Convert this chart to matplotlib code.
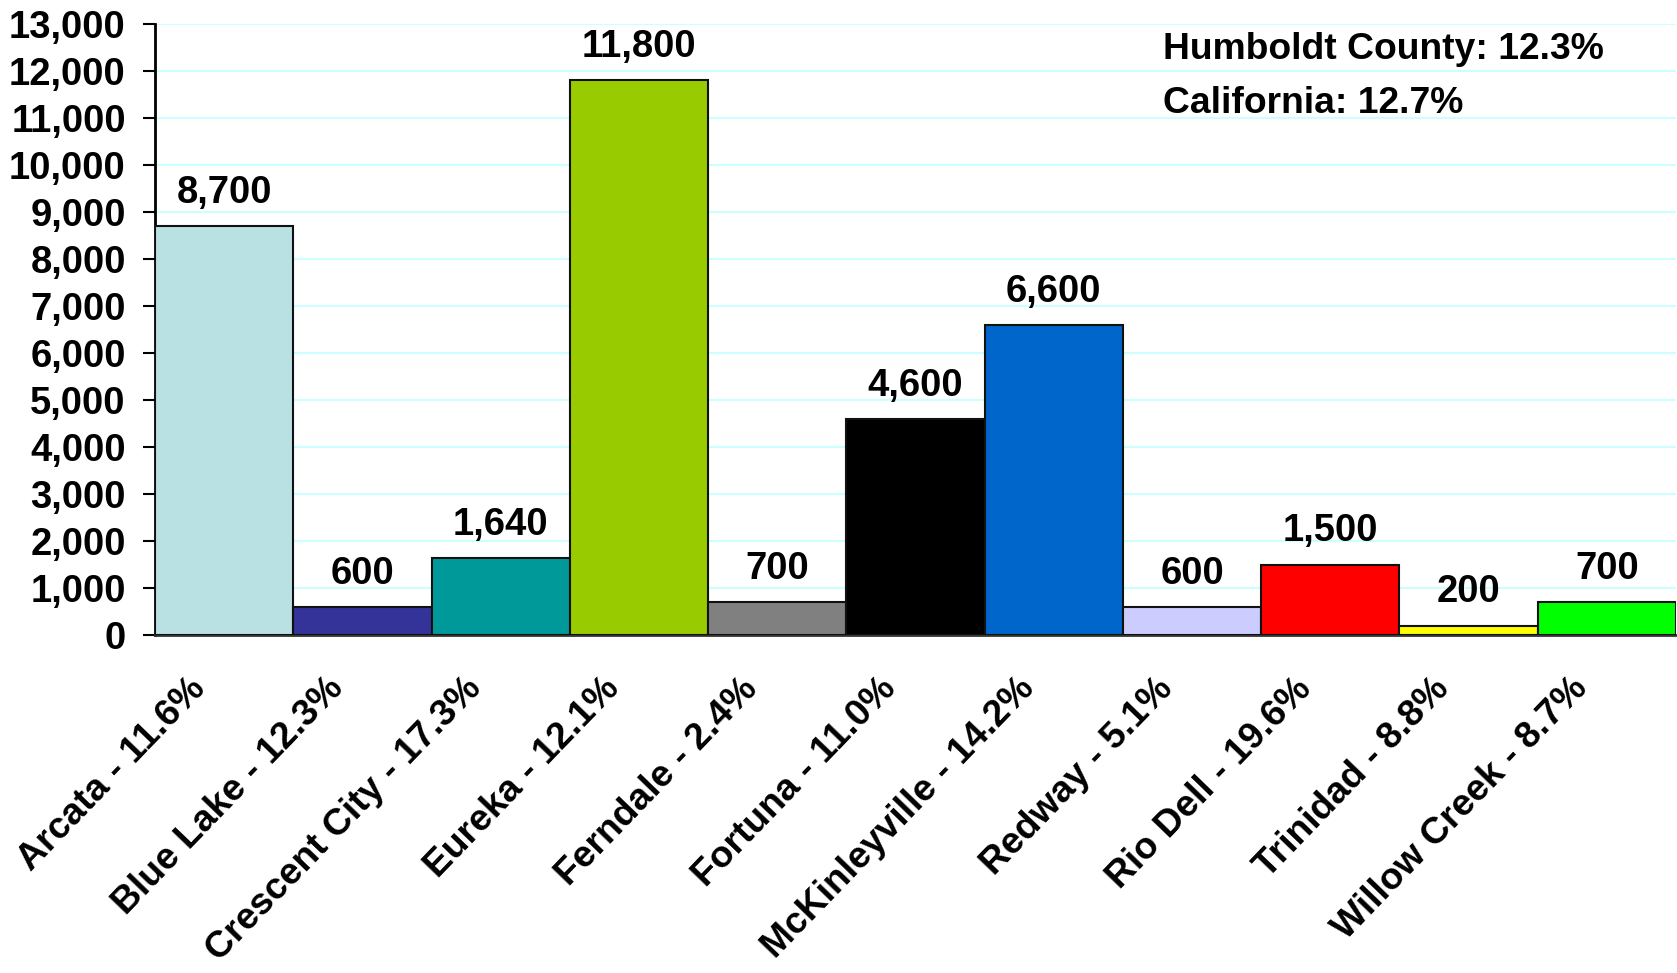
import matplotlib.pyplot as plt
from matplotlib.transforms import ScaledTranslation
from matplotlib.ticker import FuncFormatter, MultipleLocator

plt.rcParams["font.family"] = ["Liberation Sans", "DejaVu Sans"]
plt.rcParams["font.weight"] = "bold"

PLACES = ["Arcata", "Blue Lake", "Crescent City", "Eureka", "Ferndale", "Fortuna",
          "McKinleyville", "Redway", "Rio Dell", "Trinidad", "Willow Creek"]
RATES = ["11.6", "12.3", "17.3", "12.1", "2.4", "11.0", "14.2", "5.1", "19.6", "8.8", "8.7"]
VALUES = [8700, 600, 1640, 11800, 700, 4600, 6600, 600, 1500, 200, 700]
COLORS = ["#B9E0E3", "#333399", "#009999", "#99CC00", "#808080", "#000000",
          "#0066CC", "#CCCCFF", "#FF0000", "#FFFF00", "#00FF00"]
NOTES = ["Humboldt County: 12.3%", "California: 12.7%"]

FS = 27.5

fig = plt.figure(figsize=(16.77, 9.73), dpi=100)
ax = fig.add_axes([155 / 1677, 1 - 635 / 973, 1521 / 1677, 611 / 973])

x = list(range(len(PLACES)))
ax.bar(x, VALUES, width=1.0, color=COLORS, edgecolor="#111111", linewidth=1.5, zorder=3)

# value labels above each bar
for xi, v in zip(x, VALUES):
    ax.annotate(f"{v:,}", (xi, v), xytext=(0, 11), textcoords="offset points",
                ha="center", va="bottom", fontsize=FS, fontweight="bold")

ax.set_xlim(-0.5, len(PLACES) - 0.5)
ax.set_ylim(0, 13000)
ax.yaxis.set_major_locator(MultipleLocator(1000))
ax.yaxis.set_major_formatter(FuncFormatter(lambda v, p: f"{int(v):,}"))
ax.grid(axis="y", color="#CCFFFF", linewidth=1.5, zorder=0)
ax.set_axisbelow(True)

labels = [f"{p} - {r}%" for p, r in zip(PLACES, RATES)]
ax.set_xticks(x, labels, rotation=46, ha="right")
ax.tick_params(axis="x", length=0, pad=26, labelsize=26.8)
ax.tick_params(axis="y", length=9, width=1.5, direction="out", pad=12, labelsize=FS)

shift = ScaledTranslation(-12 / 100, 0, fig.dpi_scale_trans)
for lbl in ax.get_xticklabels():
    lbl.set_transform(lbl.get_transform() + shift)
    lbl.set_fontweight("bold")
for lbl in ax.get_yticklabels():
    lbl.set_fontweight("bold")

for s in ("top", "right"):
    ax.spines[s].set_visible(False)
ax.spines["left"].set_linewidth(2)
ax.spines["bottom"].set_linewidth(2)
ax.spines["bottom"].set_color("#333333")

for i, note in enumerate(NOTES):
    fig.text(1163 / 1677, 1 - (59 + 54 * i) / 973, note, ha="left", va="baseline",
             fontsize=26.8, fontweight="bold")

fig.savefig("out.png", dpi=100)
